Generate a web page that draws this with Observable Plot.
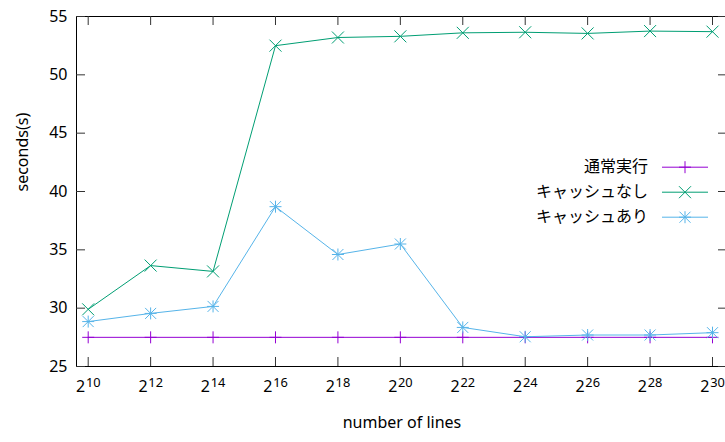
<!DOCTYPE html>
<html><head><meta charset="utf-8">
<script src="https://cdn.jsdelivr.net/npm/d3@7"></script>
<script src="https://cdn.jsdelivr.net/npm/@observablehq/plot@0.6"></script>
<style>
html,body{margin:0;padding:0;background:#fff;overflow:hidden;}
#chart{width:725px;height:442px;overflow:hidden;}
</style></head><body><div id="chart"></div>
<script>
// ---- data ----
const exponents = [10, 12, 14, 16, 18, 20, 22, 24, 26, 28, 30];
const seriesNames = ["通常実行", "キャッシュなし", "キャッシュあり"];
const normalRun = [27.5, 27.5, 27.5, 27.5, 27.5, 27.5, 27.5, 27.5, 27.5, 27.5, 27.5];
const noCache   = [29.9, 33.65, 33.15, 52.5, 53.2, 53.3, 53.6, 53.65, 53.55, 53.75, 53.7];
const withCache = [28.85, 29.55, 30.15, 38.7, 34.6, 35.5, 28.35, 27.55, 27.7, 27.7, 27.9];
const yTicks = [25, 30, 35, 40, 45, 50, 55];
const xTicks = [10, 12, 14, 16, 18, 20, 22, 24, 26, 28, 30];
const xBase = "2";
const xLabel = "number of lines";
const yLabel = "seconds(s)";
const colors = ["#9400d3", "#009e73", "#56b4e9"];

// ---- build ----
const allValues = [normalRun, noCache, withCache];
const rows = allValues.map((vals, s) => exponents.map((e, i) => ({series: seriesNames[s], s, x: e, y: vals[i]})));

const plusSym = {draw(ctx, size) {const r = Math.sqrt(size / Math.PI); ctx.moveTo(-r, 0); ctx.lineTo(r, 0); ctx.moveTo(0, -r); ctx.lineTo(0, r);}};
const timesSym = {draw(ctx, size) {const r = Math.sqrt(size / Math.PI); ctx.moveTo(-r, -r); ctx.lineTo(r, r); ctx.moveTo(-r, r); ctx.lineTo(r, -r);}};
const symbolSets = [[[plusSym, 6]], [[timesSym, 6]], [[plusSym, 6], [timesSym, 5.5]]];

const W = 725, H = 442, mL = 76, mR = -2, mT = 16, mB = 76;
const frameW = W - mL - mR, frameH = H - mT - mB;
const tickLen = 9;

const marks = [
  Plot.frame({stroke: "black", strokeWidth: 1}),
  Plot.tickX(xTicks, {x: d => d, insetTop: frameH - tickLen, stroke: "#333"}),
  Plot.tickX(xTicks, {x: d => d, insetBottom: frameH - tickLen, stroke: "#333"}),
  Plot.tickY(yTicks, {y: d => d, insetRight: frameW - tickLen, stroke: "#333"}),
  Plot.tickY(yTicks, {y: d => d, insetLeft: frameW - tickLen, stroke: "#333"}),
  Plot.axisY(yTicks, {tickSize: 0, tickPadding: 9, fontSize: 16, label: null}),
  Plot.text(xTicks, {x: d => d, text: () => xBase, frameAnchor: "bottom", textAnchor: "start", dx: -12.2, dy: 25, fontSize: 16, fill: "black"}),
  Plot.text(xTicks, {x: d => d, text: d => String(d), frameAnchor: "bottom", textAnchor: "start", dx: -2.3, dy: 20.4, fontSize: 12.8, fill: "black"}),
  Plot.text([xLabel], {text: d => d, frameAnchor: "bottom", dy: 61, fontSize: 16, fill: "black"}),
  Plot.text([yLabel], {text: d => d, frameAnchor: "left", rotate: -90, dx: -54, fontSize: 16, fill: "black"})
];
rows.forEach((data, s) => {
  marks.push(Plot.line(data, {x: "x", y: "y", stroke: colors[s], strokeWidth: 1}));
  symbolSets[s].forEach(([sym, r]) => marks.push(Plot.dot(data, {x: "x", y: "y", symbol: sym, r, stroke: colors[s], fill: "none", strokeWidth: 1})));
});

const chart = Plot.plot({
  width: W, height: H,
  marginLeft: mL, marginRight: mR, marginTop: mT, marginBottom: mB,
  x: {domain: [10, 30], range: [87.7, 712], axis: null},
  y: {domain: [25, 55], range: [H - mB, mT], axis: null},
  style: {fontFamily: "'Noto Sans', sans-serif", fontSize: "16px", color: "black", background: "white"},
  marks
});
document.getElementById("chart").appendChild(chart);

// ---- legend (inside the plot area, top right) ----
const svg = d3.select(chart);
const lg = svg.append("g").attr("font-family", "'Noto Sans CJK JP', sans-serif").attr("font-size", 16);
const symPath = (sym, r) => d3.symbol(sym, Math.PI * r * r)();
seriesNames.forEach((name, s) => {
  const cy = 166.7 + s * 25;
  lg.append("text").attr("x", 648).attr("y", cy + 5.6).attr("text-anchor", "end").attr("fill", "black").text(name);
  lg.append("line").attr("x1", 662).attr("x2", 708).attr("y1", cy + 0.5).attr("y2", cy + 0.5).attr("stroke", colors[s]).attr("stroke-width", 1);
  symbolSets[s].forEach(([sym, r]) => lg.append("path").attr("d", symPath(sym, r)).attr("transform", `translate(685,${cy + 0.5})`).attr("stroke", colors[s]).attr("fill", "none"));
});
</script>
</body></html>
